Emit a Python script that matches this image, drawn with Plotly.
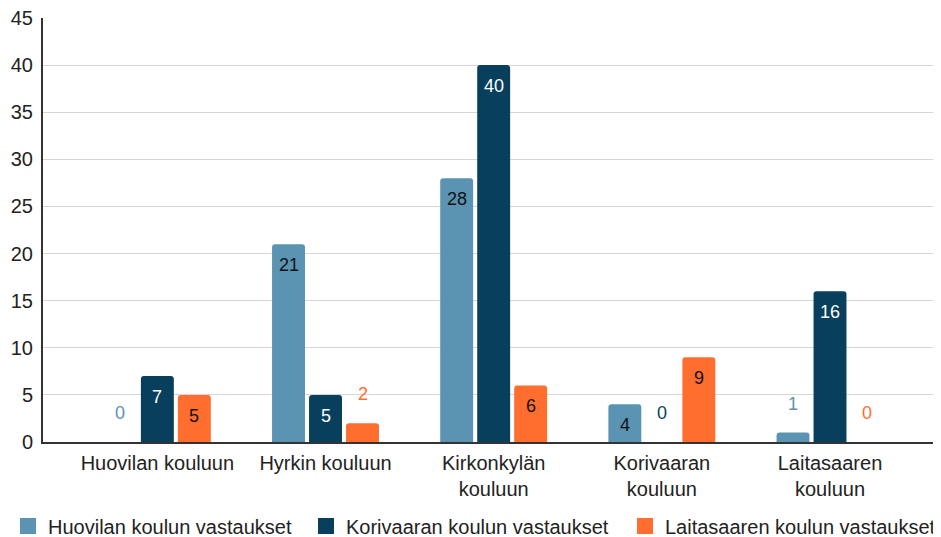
import plotly.graph_objects as go

categories = ["Huovilan kouluun", "Hyrkin kouluun", "Kirkonkylän<br>kouluun",
              "Korivaaran<br>kouluun", "Laitasaaren<br>kouluun"]
series_names = ["Huovilan koulun vastaukset", "Korivaaran koulun vastaukset",
                "Laitasaaren koulun vastaukset"]
huovilan = [0, 21, 28, 4, 1]
korivaaran = [7, 5, 40, 0, 16]
laitasaaren = [5, 2, 6, 9, 0]
y_ticks = [0, 5, 10, 15, 20, 25, 30, 35, 40, 45]

colors = ["#5b93b2", "#073f5c", "#ff6d2f"]
inside_text_colors = ["#111111", "#ffffff", "#111111"]
FONT = "Liberation Sans, Arial, sans-serif"
SLOT_PX = 37  # pixel distance between neighbouring bars in a group
FIG_W, FIG_H = 933, 529  # page body adds an 8px offset
legend_ids = ["legend", "legend2", "legend3"]

fig = go.Figure()
annotations = []
for i, (name, vals, col, tcol) in enumerate(zip(series_names,
                                               [huovilan, korivaaran, laitasaaren],
                                               colors, inside_text_colors)):
    fig.add_trace(go.Bar(
        x=categories, y=vals, name=name,
        marker=dict(color=col, line=dict(width=0)),
        showlegend=False, hoverinfo="skip",
    ))
    fig.add_trace(go.Scatter(
        x=[None], y=[None], mode="markers", name=name,
        marker=dict(symbol="square", size=20, color=col),
        showlegend=True, legend=legend_ids[i],
    ))
    for cat, v in zip(categories, vals):
        small = v <= 2
        annotations.append(dict(
            x=cat, y=v, xref="x", yref="y", text=str(v), showarrow=False,
            xshift=(i - 1) * SLOT_PX,
            yanchor="bottom" if small else "top",
            yshift=17 if small else -9,
            font=dict(size=18, family=FONT, color=col if small else tcol),
        ))

legend_common = dict(orientation="h", xref="container",
                     yanchor="middle", yref="container", y=11 / FIG_H,
                     font=dict(size=20, color="#222222"),
                     itemwidth=30, itemsizing="trace", bgcolor="rgba(0,0,0,0)")

fig.update_layout(
    width=FIG_W, height=FIG_H,
    margin=dict(l=35, r=0, t=10, b=95, autoexpand=False),
    paper_bgcolor="white", plot_bgcolor="white",
    barmode="group", bargap=0.34, bargroupgap=0.11,
    barcornerradius=3,
    font=dict(family=FONT, size=20, color="#222222"),
    annotations=annotations,
    legend=dict(x=0, xanchor="left", **legend_common),
    legend2=dict(x=298 / FIG_W, xanchor="left", **legend_common),
    legend3=dict(x=1, xanchor="right", **legend_common),
)
fig.update_xaxes(
    type="category", range=[-0.68, 4.66],
    showline=True, linecolor="#333333", linewidth=2,
    showgrid=False, ticks="", tickfont=dict(size=20, color="#222222"),
    ticklabelstandoff=2,
    fixedrange=True,
)
fig.update_yaxes(
    range=[0, 45], tickvals=y_ticks,
    showline=True, linecolor="#333333", linewidth=2,
    showgrid=True, gridcolor="#d6d6d6", gridwidth=1,
    zeroline=False, ticks="", tickfont=dict(size=20, color="#222222"),
    ticklabelstandoff=4, ticklabeloverflow="allow",
    fixedrange=True,
)

fig.write_html("out.html")
